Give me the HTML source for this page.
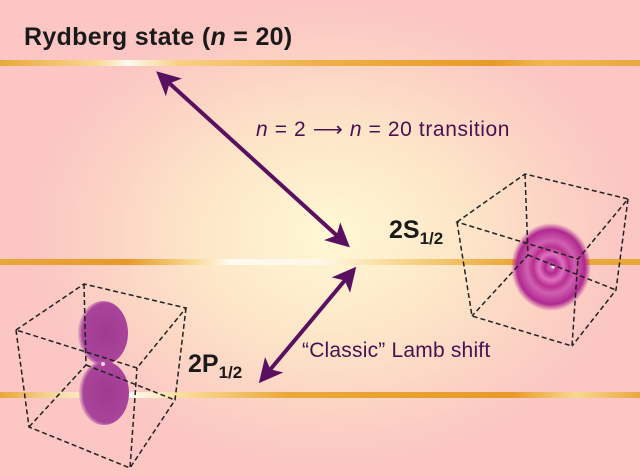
<!DOCTYPE html>
<html><head><style>
html,body{margin:0;padding:0}
body{width:640px;height:476px;overflow:hidden;position:relative;
background:radial-gradient(ellipse 300px 230px at 330px 235px,#fff8d4 0%,#fde6c8 45%,#fcd0c4 80%,#fbc6c4 100%);}
.line{position:absolute;left:0;width:640px;height:6px;}
</style></head><body>
<div class="line" style="top:60px;background:linear-gradient(90deg,#e8a838 0%,#f8d890 15%,#fffaf0 20%,#f8d080 28%,#eeb048 50%,#e89a28 77%,#f0b850 85%,#eaa840 100%)"></div>
<div class="line" style="top:259px;background:linear-gradient(90deg,#e8a838 0%,#e89a28 20%,#f8d890 30%,#fffaf0 36%,#fff8e8 50%,#f8d890 62%,#eaa838 80%,#eaa838 100%)"></div>
<div class="line" style="top:392px;background:linear-gradient(90deg,#e8a838 0%,#f8e0b0 10%,#fffaf0 20%,#f8d890 30%,#eaa838 45%,#e89a28 80%,#f8d890 90%,#eaa840 100%)"></div>
<svg width="640" height="476" style="position:absolute;left:0;top:0" xmlns="http://www.w3.org/2000/svg">
<defs>
<radialGradient id="s" cx="50%" cy="50%" r="50%">
<stop offset="0" stop-color="#e070c0"/><stop offset="0.15" stop-color="#b02890"/>
<stop offset="0.3" stop-color="#e070c0"/><stop offset="0.45" stop-color="#b83090"/>
<stop offset="0.6" stop-color="#d060b0"/><stop offset="0.85" stop-color="#b02890"/>
<stop offset="1" stop-color="#b02890" stop-opacity="0"/></radialGradient>
<radialGradient id="p" cx="55%" cy="50%" r="55%">
<stop offset="0" stop-color="#a03a90"/><stop offset="0.85" stop-color="#a8449a"/>
<stop offset="1" stop-color="#c070b8" stop-opacity="0.3"/></radialGradient>
<marker id="a" markerWidth="6" markerHeight="6" refX="4" refY="3" orient="auto" markerUnits="strokeWidth">
<path d="M0,0 L6,3 L0,6 L1.5,3Z" fill="#5a1060"/></marker>
<marker id="b" markerWidth="6" markerHeight="6" refX="2" refY="3" orient="auto-start-reverse" markerUnits="strokeWidth">
<path d="M0,0 L6,3 L0,6 L1.5,3Z" fill="#5a1060"/></marker>
</defs>
<ellipse cx="551" cy="267" rx="40" ry="44" fill="url(#s)"/>
<circle cx="553" cy="267" r="1.5" fill="#fff"/>
<g stroke="#222" stroke-width="1.5" stroke-dasharray="5,3" fill="none">
<path d="M457,222 L525,174 L628,199 L578,259 Z"/>
<path d="M457,222 L472,316 L572,346 L578,259"/>
<path d="M628,199 L616,290 L572,346"/>
<path d="M525,174 L528,255 L472,316 M528,255 L616,290"/>
</g>
<ellipse cx="103" cy="333" rx="25" ry="32" fill="url(#p)"/>
<ellipse cx="104" cy="393" rx="25" ry="32" fill="url(#p)"/>
<circle cx="103" cy="364" r="2" fill="#fce"/>
<g stroke="#222" stroke-width="1.5" stroke-dasharray="5,3" fill="none">
<path d="M16,330 L84,284 L186,308 L137,368 Z"/>
<path d="M16,330 L29,427 L130,468 L137,368"/>
<path d="M186,308 L175,400 L130,468"/>
<path d="M84,284 L86,365 L29,427 M86,365 L175,400"/>
</g>
<line x1="168" y1="82" x2="344" y2="242" stroke="#5a1060" stroke-width="4" marker-start="url(#b)" marker-end="url(#a)"/>
<line x1="346" y1="279" x2="264" y2="377" stroke="#5a1060" stroke-width="4" marker-start="url(#b)" marker-end="url(#a)"/>
</svg>
<div style="position:absolute;left:24px;top:23px;font:bold 25px 'Liberation Sans',sans-serif;color:#1a1a1a;letter-spacing:0.3px">Rydberg state (<i>n</i> = 20)</div>
<div style="position:absolute;left:256px;top:117px;font:21px 'Liberation Sans',sans-serif;color:#4a1050;letter-spacing:0.6px"><i>n</i> = 2 &#x27F6; <i>n</i> = 20 transition</div>
<div style="position:absolute;left:389px;top:216px;font:bold 25px 'Liberation Sans',sans-serif;color:#1a1a1a">2S<sub style="font-size:17px">1/2</sub></div>
<div style="position:absolute;left:188px;top:350px;font:bold 25px 'Liberation Sans',sans-serif;color:#1a1a1a">2P<sub style="font-size:17px">1/2</sub></div>
<div style="position:absolute;left:302px;top:339px;font:21px 'Liberation Sans',sans-serif;color:#4a1050;letter-spacing:0.2px">“Classic” Lamb shift</div>
</body></html>
